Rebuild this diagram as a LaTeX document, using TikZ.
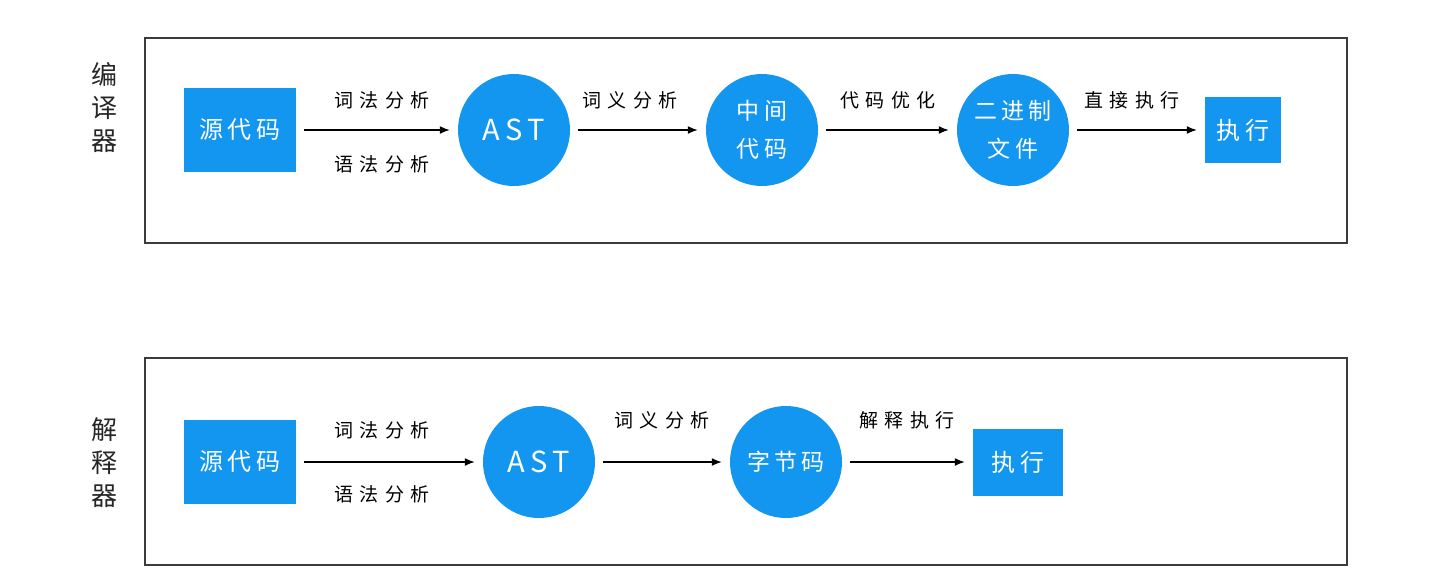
\documentclass[tikz,border=0pt]{standalone}
\usepackage{fontspec}
\setmainfont{Noto Sans CJK SC}
\newfontfamily\cjklab[LetterSpace=32]{Noto Sans CJK SC}
\newfontfamily\cjknode[LetterSpace=18]{Noto Sans CJK SC}
\usetikzlibrary{arrows.meta}
\definecolor{nodeblue}{RGB}{18,150,240}
\definecolor{framegray}{RGB}{60,60,60}
\tikzset{
  frame/.style={draw=framegray,line width=1.6pt},
  sqbox/.style={fill=nodeblue,draw=none,inner sep=0pt,text=white,font=\cjknode\fontsize{24}{28}\selectfont},
  circbox/.style={circle,fill=nodeblue,draw=none,inner sep=0pt,minimum size=112pt,text=white,align=center,font=\cjknode\fontsize{23}{38}\selectfont},
  lab/.style={font=\cjklab\fontsize{19}{21}\selectfont,text=black,inner sep=0pt},
  side/.style={font=\fontsize{26}{33}\selectfont,align=center,inner sep=0pt,text=black!85},
  arr/.style={-{Latex[length=10pt,width=8pt]},line width=1.5pt,shorten <=8pt,shorten >=8pt}
}
\begin{document}
\begin{tikzpicture}[x=1pt,y=-1pt]
\useasboundingbox (0,0) rectangle (1454,582);
\fill[white] (0,0) rectangle (1454,582);
% frames
\draw[frame] (145,38) rectangle (1347,243);
\draw[frame] (145,358) rectangle (1347,565);
\node[side] (t1) at (104,108) {编\\译\\器};
\node[side] (t2) at (104,463) {解\\释\\器};
% compiler row
\node[sqbox,minimum width=112pt,minimum height=84pt] (a1) at (240,130) {源代码};
\node[circbox] (b1) at (514,130) {\fontsize{29}{32}\selectfont AST};
\node[circbox] (c1) at (762,130) {中间\\代码};
\node[circbox] (d1) at (1013,130) {二进制\\文件};
\node[sqbox,minimum width=76pt,minimum height=66pt] (e1) at (1243,130) {执行};
\draw[arr] (a1) -- (b1);
\draw[arr] (b1) -- (c1);
\draw[arr] (c1) -- (d1);
\draw[arr] (d1) -- (e1);
\node[lab] (l1) at (382,100) {词法分析};
\node[lab] (l2) at (382,164) {语法分析};
\node[lab] (l3) at (630,100) {词义分析};
\node[lab] (l4) at (888,100) {代码优化};
\node[lab] (l5) at (1132,100) {直接执行};
% interpreter row
\node[sqbox,minimum width=112pt,minimum height=84pt] (a2) at (240,462) {源代码};
\node[circbox] (b2) at (539,462) {\fontsize{29}{32}\selectfont AST};
\node[circbox] (c2) at (786,462) {字节码};
\node[sqbox,minimum width=90pt,minimum height=67pt] (e2) at (1018,462) {执行};
\draw[arr] (a2) -- (b2);
\draw[arr] (b2) -- (c2);
\draw[arr] (c2) -- (e2);
\node[lab] (m1) at (382,430) {词法分析};
\node[lab] (m2) at (382,494) {语法分析};
\node[lab] (m3) at (662,420) {词义分析};
\node[lab] (m4) at (907,420) {解释执行};
\end{tikzpicture}
\end{document}
